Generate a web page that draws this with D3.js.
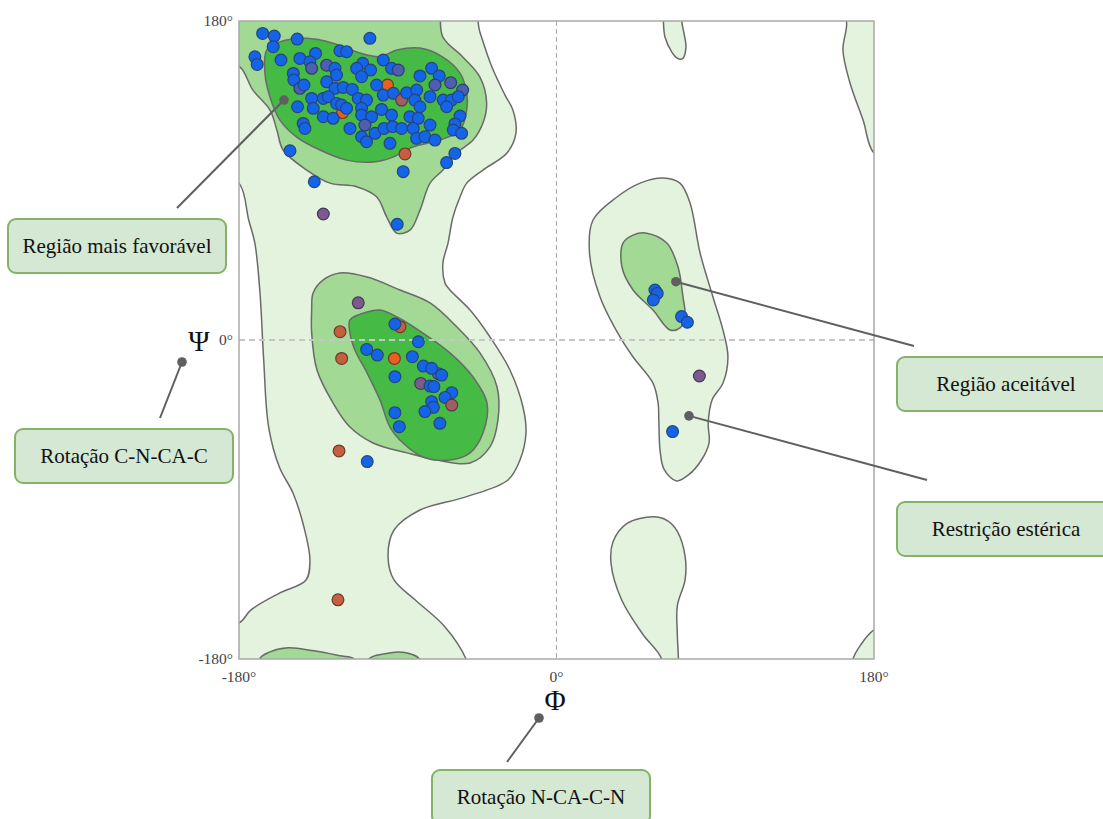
<!DOCTYPE html>
<html>
<head>
<meta charset="utf-8">
<script src="https://cdn.jsdelivr.net/npm/d3@7"></script>
<style>
  body { margin: 0; background: #fff; }
  svg { display: block; }
</style>
</head>
<body>
<div id="chart"></div>
<script>
// ---- data (phi, psi in degrees) ----
const axisTicks = [-180, 0, 180];

// contour regions, outer light green
const lightLeft = [
  [-195,195],[-50,195],[-43.4,173.7],[-36.6,154],[-29.2,138.2],[-24.7,129.7],[-23,116.7],[-28.1,105.5],
  [-41.7,95.9],[-50.9,88.5],[-54.7,80.7],[-58.7,69.4],[-61.5,54.7],[-64.4,43.4],[-63.2,32.1],[-60.4,28.2],
  [-49,16.9],[-37.7,1.7],[-26.4,-16.9],[-19,-37.8],[-17.3,-52.5],[-20.7,-67.7],[-27.5,-79],[-51.3,-88.5],
  [-77.4,-95.9],[-92.1,-107.2],[-95.5,-122.4],[-92.1,-135.4],[-80.2,-146.6],[-63.2,-161.9],[-51.3,-180],
  [-48,-195],[-195,-195],[-195,-160],[-180,-159.6],[-173.2,-152.3],[-156.8,-142.7],[-142,-135.4],
  [-139.8,-124.1],[-143.2,-105.5],[-149.4,-86.3],[-157,-72],[-163.2,-49.1],[-166,-11.3],[-168.1,26.5],
  [-171,54.7],[-174.5,67.7],[-180,88.5],[-195,95]
];
const lightRight = [
  [60.4,91.4],[70,88.5],[75.7,77.3],[81.4,49.1],[88.7,24.3],[94.4,5.6],[97.2,-9.6],[94.4,-24.3],
  [88.2,-33.8],[86,-46.8],[86.5,-58],[82,-68],[75,-76],[68,-79.5],[61,-73],[58.7,-62],[58,-45],
  [57.6,-35.5],[54.7,-24.3],[43.4,-9.6],[36,1.7],[24.7,24.3],[18.7,49.1],[20.7,67.7],[34.3,80.7],[47.4,88.5]
];
const lightDrop = [
  [54.7,-99.8],[63,-102],[68.5,-108],[72.9,-122],[72.9,-135.4],[68.5,-150],[68.5,-166],[69.1,-180],
  [69,-195],[59.6,-195],[59.6,-180],[48.8,-165.9],[36.9,-146.6],[30.9,-126],[32,-114],[40,-103.5]
];
const lightTopBlob = [
  [60.5,195],[60.6,180],[61.5,171],[65.3,162.6],[68.5,159],[71.5,158.8],[73.4,165.4],[72.3,173],[71,180],[71,195]
];
const lightTopEdge = [
  [163,195],[164.5,178],[162.4,163.6],[166.4,145],[173.8,124.1],[180,105.5],[195,100],[195,195]
];
const lightBottomEdge = [
  [168.1,-180],[172.5,-172],[180,-163.6],[195,-158],[195,-195],[167,-195]
];

// allowed (medium green)
const medBeta = [
  [-195,195],[-70,195],[-64.4,170.9],[-53,159.6],[-43.4,148.3],[-39.6,133.7],[-41.7,122.4],[-47.3,112.8],
  [-56.6,105.5],[-64.4,95.9],[-71.7,88.5],[-77.4,73.3],[-83.1,62],[-90.6,60.3],[-96.3,69.5],[-102,80.8],
  [-113.3,86.5],[-128.4,88.5],[-141.6,95.9],[-155,107.2],[-158.5,118.4],[-162.4,129.7],[-172.1,141],
  [-179.5,154.1],[-195,160]
];
const medAlpha = [
  [-138,26.5],[-132.4,33.8],[-122.8,37.8],[-107.4,35.5],[-88.7,28.2],[-71.7,20.9],[-56.4,7.3],[-43.4,-7.3],
  [-33.7,-26.5],[-33.2,-45.1],[-37.7,-60.3],[-49,-69.4],[-67.8,-67.7],[-84.8,-63.7],[-104,-58.1],
  [-117.1,-49.1],[-126.7,-35.5],[-135.8,-16.9],[-138.8,3.9],[-138.8,16.9]
];
const medLeftHand = [
  [51.1,60.3],[62.5,54.7],[68.9,41.2],[71.7,24.3],[72.9,13],[70,6.8],[64.4,5.6],[54.7,16.9],
  [43.4,28.2],[37.1,41.2],[37.7,54.7],[43.4,59.2]
];
const medBottomA = [
  [-168.4,-180],[-162.4,-176],[-152.2,-173.7],[-137.5,-175.4],[-122.8,-178.2],[-114.8,-180],[-114,-195],[-169,-195]
];
const medBottomB = [
  [-106.3,-180],[-97.2,-177],[-89.3,-176],[-83.1,-177],[-77.7,-180],[-77,-195],[-107,-195]
];

// favoured (dark green)
const darkBeta = [
  [-164.3,163.6],[-156.8,168.2],[-141.6,170.2],[-126.7,167.5],[-111.4,161.9],[-100.1,159.8],[-90.6,163.6],
  [-77.4,164.7],[-64.4,159.6],[-54.7,150.6],[-50.9,139.3],[-50.9,129.7],[-54.7,118.4],[-66.1,112.8],
  [-81.4,108.9],[-92.7,103.2],[-104,100.4],[-119,101.5],[-134.1,107.2],[-147.3,114.5],[-156.8,124.1],
  [-162.4,137],[-165.3,150.6]
];
const darkAlpha = [
  [-117.1,11.3],[-107.4,15.8],[-100.1,16.9],[-90.4,13],[-75.7,3.9],[-60.4,-7.3],[-47.3,-20.9],[-39.4,-35.5],
  [-41.7,-52.5],[-49,-63.7],[-60.4,-67.7],[-75.7,-66],[-87,-58.1],[-94.4,-49.1],[-100.1,-33.8],
  [-107.4,-18.6],[-114.3,-5.6],[-117.1,3.9]
];

// residues: [phi, psi, kind]  b blue, o orange, r rust, m mauve, p purple, s slate
const betaResidues = [
  [-121.3,128.3,'o'],[-166.6,173,'b'],[-160,171.5,'b'],[-147,169.8,'b'],[-105.8,170.2,'b'],[-160.6,165.5,'b'],
  [-171,159.8,'b'],[-169.7,155.5,'b'],[-156.2,158,'b'],[-136.6,161.7,'b'],[-122.8,163.2,'b'],[-119,162.7,'b'],
  [-145.5,158.9,'b'],[-139.8,157,'b'],[-138.8,153.3,'s'],[-149.2,150.4,'b'],[-148.9,146.7,'b'],
  [-145.5,142,'s'],[-143.2,143.9,'b'],[-130.3,155.1,'s'],[-125.6,153.3,'b'],[-124.7,149.5,'b'],
  [-130.3,145.7,'b'],[-125.6,142,'b'],[-120.9,142.5,'b'],[-115.8,141.4,'b'],[-109.9,156.1,'b'],
  [-113.3,153.3,'b'],[-105.4,152.3,'b'],[-110.5,148.6,'b'],[-98.2,158,'b'],[-93.5,153.3,'b'],
  [-89.7,152.3,'s'],[-77.4,149,'b'],[-70.8,153.3,'b'],[-66.5,149,'b'],[-68.9,143.9,'s'],[-60,145.2,'s'],
  [-53.2,141,'s'],[-95.8,143.9,'o'],[-102,143.9,'b'],[-98.2,138.2,'b'],[-92.5,139.2,'b'],[-87.8,135.4,'m'],
  [-85,139.5,'b'],[-79.3,141,'b'],[-138.8,136.3,'b'],[-137.9,130.7,'b'],[-132.2,136.3,'b'],[-129.4,137.3,'b'],
  [-124.7,133.5,'b'],[-121.8,132.6,'b'],[-119,130.7,'b'],[-146.8,131.6,'b'],[-143.6,122.2,'b'],
  [-142.6,119.4,'b'],[-132.2,126,'b'],[-126.6,125.1,'b'],[-112.4,136.3,'b'],[-107.7,135.4,'b'],
  [-110.5,130.7,'b'],[-110.5,127,'b'],[-104.8,126,'b'],[-108.6,121.3,'s'],[-117.1,119.4,'b'],
  [-110.5,114.7,'b'],[-107.7,111.9,'b'],[-102.9,116.6,'b'],[-97.8,119.4,'b'],[-92.9,120.4,'b'],
  [-93.5,127,'b'],[-99.2,130.1,'b'],[-83.1,126,'b'],[-78.4,125.1,'b'],[-80.3,135.4,'b'],[-77.4,131.6,'b'],
  [-71.7,137.3,'b'],[-87.8,119.4,'b'],[-81.2,119.4,'b'],[-79.3,113.8,'b'],[-74.6,114.7,'b'],[-68.9,112.8,'b'],
  [-71.7,121.3,'b'],[-64.2,135.4,'b'],[-59.5,135.4,'b'],[-55.7,137.3,'b'],[-62.3,131.6,'b'],[-54.7,126.4,'b'],
  [-57.6,121.9,'b'],[-58.5,118.5,'b'],[-53.8,116.6,'b'],[-94.4,111,'b'],[-85.9,105,'r'],[-57.6,105.3,'b'],
  [-62.3,100.1,'b'],[-86.9,95,'b'],[-151.1,106.8,'b'],[-137.3,89.3,'b'],[-132.2,71.1,'p'],[-90.3,65.3,'b']
];
const alphaResidues = [
  [-88.7,7.5,'r'],[-67,-19,'s'],[-112.4,21,'p'],[-122.7,4.7,'r'],[-121.8,-10.4,'r'],[-91.6,9,'b'],
  [-78.3,-1,'b'],[-107.6,-5.3,'b'],[-101.6,-8.5,'b'],[-91.9,-10.4,'o'],[-81.7,-9.4,'b'],[-91.6,-20.7,'b'],
  [-75.5,-14.7,'b'],[-70.8,-16,'b'],[-65.1,-19.8,'b'],[-77,-24.5,'p'],[-71.7,-26,'b'],[-69.5,-26.3,'b'],
  [-59.4,-29.7,'b'],[-63.2,-32.4,'b'],[-59.4,-36.7,'m'],[-70.8,-34.8,'b'],[-69.8,-38,'b'],[-74.6,-40.4,'b'],
  [-91.6,-41,'b'],[-89.1,-48.9,'b'],[-66.1,-47,'b'],[-123.3,-62.6,'r'],[-107.3,-68.6,'b'],[-123.9,-146.6,'r']
];
const leftHandResidues = [
  [55.8,28.2,'b'],[57.1,26.3,'b'],[54.9,22.6,'b'],[70.9,13.2,'b'],[74.2,10,'b'],[81,-20.3,'p'],[65.8,-51.7,'b']
];

// annotations
const regionCallouts = [
  { label: 'Região mais favorável', at: [-154.5, 135.4] },
  { label: 'Região aceitável',      at: [67.7, 32.9] },
  { label: 'Restrição estérica',    at: [75.1, -42.8] }
];
const axisCallouts = ['Rotação C-N-CA-C', 'Rotação N-CA-C-N'];

// ---- drawing ----
const width = 1103, height = 819;
const plot = { left: 239, right: 874, top: 21, bottom: 659 };

const svg = d3.select('#chart').append('svg')
  .attr('width', width).attr('height', height);

const x = d3.scaleLinear().domain([-180, 180]).range([plot.left, plot.right]);
const y = d3.scaleLinear().domain([-180, 180]).range([plot.bottom, plot.top]);

svg.append('defs').append('clipPath').attr('id', 'plot-clip')
  .append('rect')
  .attr('x', plot.left).attr('y', plot.top)
  .attr('width', plot.right - plot.left).attr('height', plot.bottom - plot.top);

const region = d3.line()
  .x(d => x(d[0])).y(d => y(d[1]))
  .curve(d3.curveCatmullRomClosed.alpha(0.5));

const regions = svg.append('g').attr('clip-path', 'url(#plot-clip)');

const layers = [
  { fill: '#e3f3de', shapes: [lightLeft, lightRight, lightDrop, lightTopBlob, lightTopEdge, lightBottomEdge] },
  { fill: '#a1d995', shapes: [medBeta, medAlpha, medLeftHand, medBottomA, medBottomB] },
  { fill: '#45ba45', shapes: [darkBeta, darkAlpha] }
];
layers.forEach(layer => {
  regions.selectAll(null)
    .data(layer.shapes)
    .join('path')
    .attr('d', region)
    .attr('fill', layer.fill)
    .attr('stroke', '#6a6a6a')
    .attr('stroke-width', 1.5);
});

// zero lines
svg.append('line')
  .attr('x1', x(0)).attr('x2', x(0))
  .attr('y1', plot.top).attr('y2', plot.bottom)
  .attr('stroke', '#a8a8a8').attr('stroke-width', 1)
  .attr('stroke-dasharray', '5,3');
svg.append('line')
  .attr('x1', plot.left).attr('x2', plot.right)
  .attr('y1', y(0)).attr('y2', y(0))
  .attr('stroke', '#c6c6c6').attr('stroke-width', 2)
  .attr('stroke-dasharray', '6,4');

// frame
svg.append('rect')
  .attr('x', plot.left).attr('y', plot.top)
  .attr('width', plot.right - plot.left).attr('height', plot.bottom - plot.top)
  .attr('fill', 'none').attr('stroke', '#a9a9a9').attr('stroke-width', 1.5);

// residues
const residueFill = { b: '#1464ea', o: '#e8601f', r: '#c4603f', m: '#a05e60', p: '#7c5a8e', s: '#4e5fb0' };
const residueStroke = { b: '#27457a', o: '#6d3a28', r: '#6d3a28', m: '#553a48', p: '#46375a', s: '#2f3c6e' };

svg.append('g')
  .selectAll('circle')
  .data([...betaResidues, ...alphaResidues, ...leftHandResidues])
  .join('circle')
  .attr('cx', d => x(d[0]))
  .attr('cy', d => y(d[1]))
  .attr('r', 5.9)
  .attr('fill', d => residueFill[d[2]])
  .attr('stroke', d => residueStroke[d[2]])
  .attr('stroke-width', 1.2);

// tick labels
const serif = '"Liberation Serif", "Times New Roman", serif';
svg.append('g').selectAll('text')
  .data(axisTicks)
  .join('text')
  .attr('x', 233)
  .attr('y', d => y(d) + 5)
  .attr('text-anchor', 'end')
  .attr('font-family', serif)
  .attr('font-size', 15.5)
  .attr('fill', '#444')
  .text(d => d + '°');
svg.append('g').selectAll('text')
  .data(axisTicks)
  .join('text')
  .attr('x', d => x(d))
  .attr('y', 682)
  .attr('text-anchor', 'middle')
  .attr('font-family', serif)
  .attr('font-size', 15.5)
  .attr('fill', '#444')
  .text(d => d + '°');

// axis symbols
svg.append('text')
  .attr('x', 199).attr('y', 351)
  .attr('text-anchor', 'middle')
  .attr('font-family', serif).attr('font-size', 29)
  .attr('fill', '#111')
  .text('Ψ');
svg.append('text')
  .attr('x', 555).attr('y', 710)
  .attr('text-anchor', 'middle')
  .attr('font-family', serif).attr('font-size', 29)
  .attr('fill', '#111')
  .text('Φ');

// callout boxes
const boxes = [
  { text: regionCallouts[0].label, x: 8,   y: 219, from: [x(regionCallouts[0].at[0]), y(regionCallouts[0].at[1])], to: [177, 208] },
  { text: regionCallouts[1].label, x: 897, y: 357, from: [x(regionCallouts[1].at[0]), y(regionCallouts[1].at[1])], to: [914, 346] },
  { text: regionCallouts[2].label, x: 897, y: 502, from: [x(regionCallouts[2].at[0]), y(regionCallouts[2].at[1])], to: [927, 480] },
  { text: axisCallouts[0],         x: 15,  y: 429, from: [182, 362], to: [160, 418] },
  { text: axisCallouts[1],         x: 432, y: 770, from: [539, 718], to: [507, 762] }
];
const boxW = 218, boxH = 54;

const callout = svg.append('g');
callout.selectAll('line')
  .data(boxes)
  .join('line')
  .attr('x1', d => d.from[0]).attr('y1', d => d.from[1])
  .attr('x2', d => d.to[0]).attr('y2', d => d.to[1])
  .attr('stroke', '#5f5f5f').attr('stroke-width', 2);
callout.selectAll('circle')
  .data(boxes)
  .join('circle')
  .attr('cx', d => d.from[0]).attr('cy', d => d.from[1])
  .attr('r', 4.8)
  .attr('fill', '#5f5f5f');
callout.selectAll('rect')
  .data(boxes)
  .join('rect')
  .attr('x', d => d.x).attr('y', d => d.y)
  .attr('width', boxW).attr('height', boxH)
  .attr('rx', 8)
  .attr('fill', '#d5e8d4')
  .attr('stroke', '#82b366').attr('stroke-width', 2);
callout.selectAll('text')
  .data(boxes)
  .join('text')
  .attr('x', d => d.x + boxW / 2)
  .attr('y', d => d.y + boxH / 2 + 7)
  .attr('text-anchor', 'middle')
  .attr('font-family', serif)
  .attr('font-size', 21)
  .attr('fill', '#111')
  .text(d => d.text);
</script>
</body>
</html>
